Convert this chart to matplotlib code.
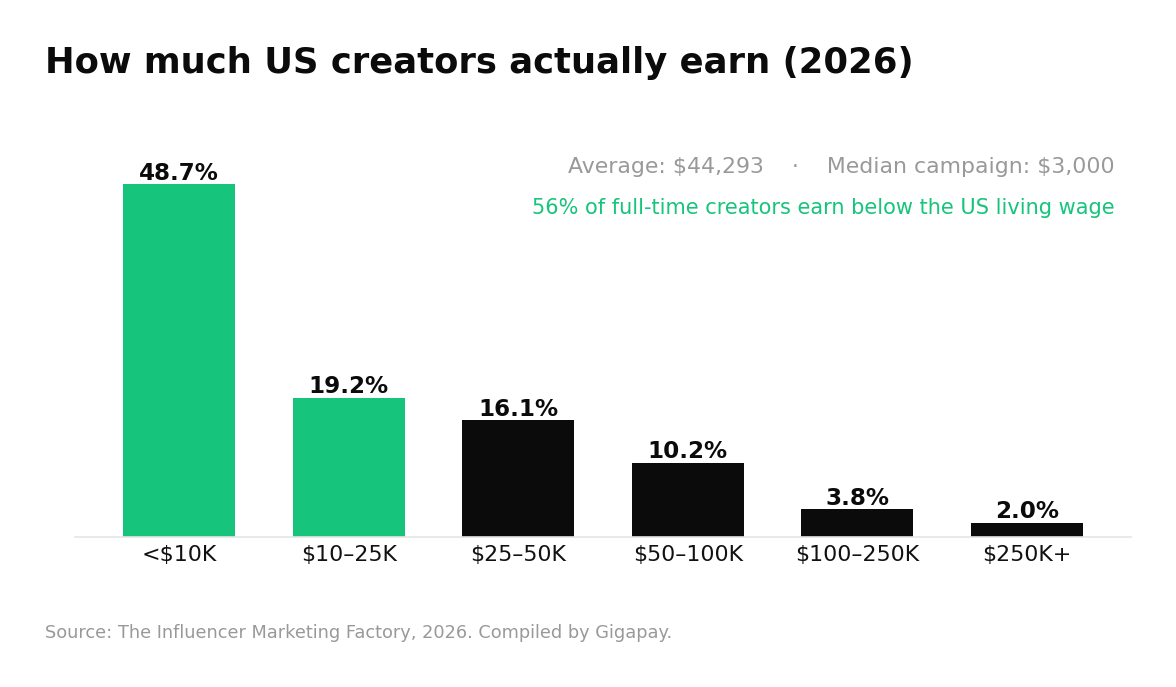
import matplotlib
matplotlib.use('Agg')
import matplotlib.pyplot as plt

categories = ['<$10K', '$10–25K', '$25–50K', '$50–100K', '$100–250K', '$250K+']
shares = [48.7, 19.2, 16.1, 10.2, 3.8, 2.0]
highlight = [True, True, False, False, False, False]

GREEN = '#16c47b'
BLACK = '#0b0b0b'
GRAY = '#999999'


def main():
    plt.rcParams['text.parse_math'] = False
    fig = plt.figure(figsize=(11.76, 6.87), dpi=100)
    ax = fig.add_axes([0.0638, 0.2183, 0.8979, 0.58])

    colors = [GREEN if h else BLACK for h in highlight]
    x = range(len(categories))
    bars = ax.bar(x, shares, width=0.66, color=colors)
    for b, v in zip(bars, shares):
        ax.text(b.get_x() + b.get_width() / 2, v - 0.05, f'{v:.1f}%',
                ha='center', va='bottom', fontsize=16.6, fontweight='bold', color=BLACK)

    ax.set_xlim(-0.613, 5.613)
    ax.set_ylim(0, 55)
    ax.set_xticks(list(x))
    ax.set_xticklabels(categories, fontsize=15.9, color='#111111')
    ax.tick_params(axis='x', length=0, pad=6)
    ax.set_yticks([])
    for s in ['top', 'right', 'left']:
        ax.spines[s].set_visible(False)
    ax.spines['bottom'].set_color('#e5e5e5')
    ax.spines['bottom'].set_linewidth(1.2)

    fig.text(0.0383, 0.933, 'How much US creators actually earn (2026)',
             fontsize=25.45, fontweight='bold', color=BLACK, va='top', ha='left')
    fig.text(0.948, 0.757, 'Average: $44,293    ·    Median campaign: $3,000',
             fontsize=15.8, color=GRAY, ha='right', va='center')
    fig.text(0.948, 0.697, '56% of full-time creators earn below the US living wage',
             fontsize=15, color=GREEN, ha='right', va='center')
    fig.text(0.0383, 0.0785, 'Source: The Influencer Marketing Factory, 2026. Compiled by Gigapay.',
             fontsize=12.75, color=GRAY, ha='left', va='center')

    fig.savefig('out.png', dpi=100)


if __name__ == '__main__':
    main()
